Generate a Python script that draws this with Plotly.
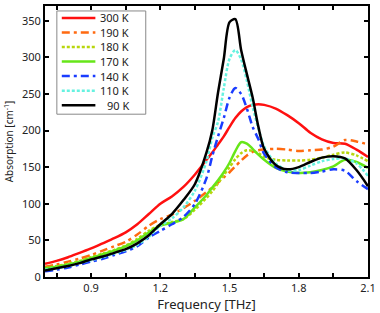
import plotly.graph_objects as go

freq = [0.7, 0.75, 0.8, 0.85, 0.9, 0.95, 1.0, 1.05, 1.1, 1.15, 1.2, 1.25, 1.3, 1.35, 1.4,
        1.425, 1.45, 1.475, 1.5, 1.525, 1.55, 1.575, 1.6, 1.625, 1.65, 1.7, 1.75, 1.8,
        1.85, 1.9, 1.95, 2.0, 2.05, 2.1]

a300 = [18, 22, 27, 33, 39, 46, 53, 61, 72, 86, 100, 110, 123, 140, 160,
        170, 181, 192, 205, 217, 226, 232, 235, 236, 235, 230, 221, 210,
        197, 188, 183, 182, 174, 164]
a190 = [14, 17, 21, 25, 30, 36, 42, 48, 58, 70, 79, 85, 94, 104, 116,
        122, 129, 136, 143, 151, 159, 166, 171, 173, 174, 175, 174, 172,
        173, 174, 178, 187, 185, 181]
a180 = [12, 15, 18, 22, 27, 32, 37, 43, 52, 63, 71, 75, 79, 92, 108,
        117, 128, 139, 150, 161, 169, 173, 172, 169, 164, 160, 159, 159,
        160, 163, 167, 170, 166, 158]
a170 = [12, 14, 17, 21, 26, 31, 36, 42, 50, 61, 70, 74, 79, 95, 112,
        122, 132, 143, 156, 172, 184, 182, 175, 167, 160, 149, 144, 142,
        143, 146, 151, 160, 157, 149]
a140 = [8, 10, 13, 17, 21, 25, 30, 35, 42, 54, 63, 72, 82, 100, 135,
        165, 192, 217, 245, 258, 250, 230, 205, 188, 168, 150, 143, 142,
        142, 144, 147, 145, 131, 120]
a110 = [10, 12, 15, 19, 23, 27, 32, 37, 44, 55, 70, 80, 95, 118, 158,
        190, 212, 258, 298, 310, 297, 268, 232, 203, 178, 155, 146, 146,
        152, 158, 161, 162, 155, 138]
a90 = [9, 12, 15, 19, 24, 28, 33, 38, 46, 57, 72, 86, 105, 127, 170,
       200, 252, 298, 348, 352, 310, 277, 245, 205, 175, 153, 147, 150,
       157, 163, 165, 162, 146, 124]

labels = ["300 K", "190 K", "180 K", "170 K", "140 K", "110 K", "90 K"]
series = [a300, a190, a180, a170, a140, a110, a90]
colors = ["#ff1010", "#ff6a10", "#b8d60c", "#66e619", "#1a3cff", "#66f2e0", "#000000"]
dashes = ["solid", "8px,4px,3px,4px", "3px,2px", "solid", "8px,4px,3px,4px", "3px,2px", "solid"]

fig = go.Figure()
for lab, ys, c, d in zip(labels, series, colors, dashes):
    fig.add_trace(go.Scatter(x=freq, y=ys, mode="lines", name=lab, showlegend=False,
                             line=dict(color=c, width=2.5, dash=d, shape="spline", smoothing=0.8)))

# custom legend box (paper coordinates of the plot area)
W, H = 327.0, 273.0
def px(xp):
    return (xp - 45) / W
def py(yp):
    return (277 - yp) / H

shapes = [dict(type="rect", xref="paper", yref="paper",
               x0=px(57), x1=px(147), y0=py(113), y1=py(9),
               line=dict(color="#888888", width=1), fillcolor="white", layer="above")]
annotations = []
for i, (lab, c, d) in enumerate(zip(labels, colors, dashes)):
    yy = py(16 + 14.65 * i)
    shapes.append(dict(type="line", xref="paper", yref="paper",
                       x0=px(62), x1=px(96), y0=yy, y1=yy, layer="above",
                       line=dict(color=c, width=2.5, dash=d)))
    annotations.append(dict(xref="paper", yref="paper", x=px(132), y=yy,
                            xanchor="right", yanchor="middle", showarrow=False,
                            text=lab, font=dict(family="Noto Sans", size=11, color="#222222")))

fnt = dict(family="Noto Sans", size=11, color="#222222")
fig.update_layout(
    width=380, height=313,
    margin=dict(l=45, r=8, t=4, b=36),
    paper_bgcolor="white", plot_bgcolor="white",
    font=fnt,
    showlegend=False,
    shapes=shapes,
    annotations=annotations,
)
fig.update_xaxes(range=[0.7, 2.1], tick0=0.9, dtick=0.3, ticks="inside", ticklen=4,
                 tickwidth=1.5, tickcolor="black",
                 minor=dict(dtick=0.15, tick0=0.75, ticks="inside", ticklen=4, tickwidth=1.5, tickcolor="black"),
                 showline=True, linecolor="black", linewidth=2, mirror="ticks",
                 showgrid=False, zeroline=False, tickformat=".1f",
                 title=dict(text="Frequency [THz]", standoff=2))
fig.update_yaxes(range=[0, 370], tick0=0, dtick=50, ticks="inside", ticklen=4,
                 tickwidth=1.5, tickcolor="black",
                 showline=True, linecolor="black", linewidth=2, mirror="ticks",
                 showgrid=False, zeroline=False,
                 title=dict(text="Absorption [cm<sup>-1</sup>]", standoff=6,
                            font=dict(family="Noto Sans", size=10, color="#222222")))

fig.write_html("out.html", config={"displayModeBar": False},
               post_script="document.body.style.margin='0';document.body.style.padding='0';document.body.style.overflow='hidden';")
